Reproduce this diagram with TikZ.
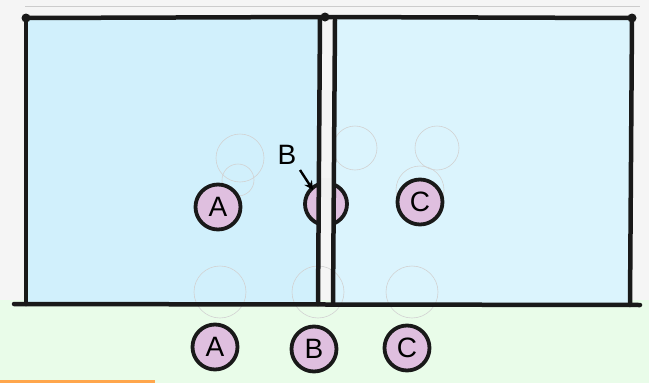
\documentclass[tikz,border=0pt]{standalone}
\usepackage{fontspec}
\setsansfont{Liberation Sans}
\usetikzlibrary{arrows.meta}
\begin{document}
\begin{tikzpicture}[x=1pt,y=-1pt,
  wall/.style={line width=4.5pt,black!90,line cap=round},
  ball/.style={circle,draw=black!90,line width=3.8pt,fill=violet!25,minimum size=45pt,inner sep=0pt,font=\sffamily\fontsize{28}{28}\selectfont},
  ghost/.style={draw=gray!35,line width=0.6pt},
  dot/.style={circle,fill=black!90,inner sep=0pt,minimum size=9pt}]
\useasboundingbox (0,0) rectangle (649,383);
% paper
\fill[gray!8] (0,0) rectangle (649,383);
\fill[green!10!white,opacity=0.7] (0,300) rectangle (649,383);
\draw[orange!70,line width=3pt] (0,381) -- (155,381);
\draw[gray!40,line width=0.6pt] (25,6) -- (640,6);
% water
\fill[cyan!18!white] (26,18) rectangle (319,303);
\fill[cyan!14!white] (334,18) rectangle (631,303);
% faint pencil circles
\draw[ghost] (240,158) circle (24);
\draw[ghost] (238,180) circle (16);
\draw[ghost] (355,148) circle (22);
\draw[ghost] (437,148) circle (22);
\draw[ghost] (420,190) circle (24);
\draw[ghost] (220,292) circle (26);
\draw[ghost] (318,292) circle (26);
\draw[ghost] (412,292) circle (26);
% tank frame
\coordinate (tl) at (26,18);
\coordinate (tm) at (325,17);
\coordinate (tr) at (632,18);
\coordinate (bl) at (14,304);
\coordinate (br) at (640,305);
\coordinate (lb) at (26,304);
\coordinate (rb) at (630,305);
\coordinate (d1t) at (320,18);
\coordinate (d1b) at (318,304);
\coordinate (d2t) at (335,20);
\coordinate (d2b) at (333,304);
% balls inside
\node[ball] (A1) at (218,207) {A};
\node[ball,minimum size=42pt] (B1) at (326,204) {};
\node[ball] (C1) at (420,202) {C};
\fill[gray!10] (321,178) rectangle (332,230);
\draw[wall] (tl) -- (tm) -- (tr);
\draw[wall] (tl) -- (lb);
\draw[wall] (tr) -- (rb);
\draw[wall] (bl) -- (br);
\draw[wall] (d1t) -- (d1b);
\draw[wall] (d2t) -- (d2b);
\node[dot] at (tl) {};
\node[dot] at (tm) {};
\node[dot] at (tr) {};
% B label
\node[font=\sffamily\fontsize{28}{28}\selectfont] (Blab) at (287,155) {B};
\coordinate (Bt) at (313,190);
\draw[line width=2.4pt,-{Stealth[length=9pt,width=9pt]}] (300,170) -- (Bt);
% balls below
\node[ball] (A2) at (215,347) {A};
\node[ball] (B2) at (314,349) {B};
\node[ball] (C2) at (407,348) {C};
\end{tikzpicture}
\end{document}
